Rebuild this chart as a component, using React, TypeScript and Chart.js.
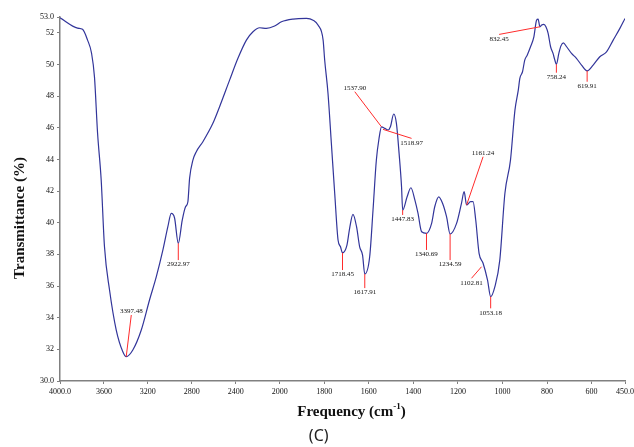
import React, { useEffect, useRef } from 'react';
import { Chart, registerables } from 'chart.js';

Chart.register(...registerables);

// Piecewise wavenumber axis: 4000-2000 compressed (half scale), 2000-450 full scale
const K = 0.493;
const toT = (w: number) => (w >= 2000 ? (4000 - w) * K : 2000 * K + (2000 - w));

const wavenumbers = [
  4000, 3840, 3795, 3749, 3713, 3686, 3658, 3625, 3595, 3549,
  3488, 3428, 3397, 3337, 3260, 3185, 3123, 3063, 3018, 2987,
  2957, 2923, 2887, 2857, 2836, 2820, 2790, 2759, 2699, 2608,
  2547, 2456, 2380, 2303, 2243, 2182, 2121, 2046, 1992, 1940,
  1880, 1850, 1828, 1805, 1798, 1783, 1768, 1753, 1738, 1727,
  1718, 1698, 1686, 1671, 1655, 1641, 1628, 1618, 1596, 1581,
  1566, 1554, 1543, 1528, 1513, 1503, 1488, 1476, 1464, 1453,
  1448, 1428, 1411, 1393, 1379, 1363, 1341, 1318, 1304, 1286,
  1269, 1251, 1235, 1206, 1184, 1172, 1161, 1143, 1132, 1120,
  1105, 1087, 1067, 1053, 1034, 1012, 989, 964, 944, 929,
  922, 910, 900, 889, 874, 859, 847, 840, 832, 824,
  814, 805, 795, 784, 773, 765, 758, 747, 738, 727,
  712, 690, 668, 645, 620, 593, 563, 533, 503, 473,
  450,
];

const transmittance = [
  52.95, 52.30, 52.22, 51.54, 50.72, 49.20, 45.67, 42.70, 38.48, 35.75,
  33.22, 31.85, 31.54, 31.96, 33.22, 35.12, 36.59, 38.28, 39.75, 40.59,
  40.30, 38.70, 40.17, 41.01, 41.31, 42.82, 43.96, 44.49, 45.12, 46.28,
  47.33, 49.01, 50.39, 51.54, 52.07, 52.32, 52.28, 52.43, 52.70, 52.87,
  52.91, 52.80, 52.49, 51.54, 50.28, 48.17, 45.02, 41.86, 38.91, 38.48,
  38.10, 38.59, 39.65, 40.53, 39.75, 38.48, 37.96, 36.76, 37.85, 40.80,
  43.96, 45.33, 46.06, 45.96, 45.86, 46.06, 46.87, 46.28, 44.38, 42.27,
  40.80, 41.64, 42.21, 41.43, 40.59, 39.43, 39.33, 39.96, 41.01, 41.64,
  41.23, 40.38, 39.29, 39.96, 41.23, 41.96, 41.12, 41.33, 41.33, 40.17,
  38.07, 37.44, 36.38, 35.33, 35.96, 37.64, 41.86, 43.96, 47.12, 48.38,
  49.12, 49.54, 50.28, 50.59, 51.12, 51.75, 52.80, 52.87, 52.38, 52.49,
  52.53, 52.38, 51.96, 51.12, 50.70, 50.28, 50.01, 50.70, 51.16, 51.37,
  51.12, 50.70, 50.39, 49.96, 49.60, 49.96, 50.49, 50.80, 51.54, 52.28,
  52.91,
];

const xTickValues = [4000, 3600, 3200, 2800, 2400, 2000, 1800, 1600, 1400, 1200, 1000, 800, 600, 450];
const xTickLabels = ['4000.0', '3600', '3200', '2800', '2400', '2000', '1800', '1600', '1400', '1200', '1000', '800', '600', '450.0'];
const yTickValues = [30, 32, 34, 36, 38, 40, 42, 44, 46, 48, 50, 52, 53];
const yTickLabels = ['30.0', '32', '34', '36', '38', '40', '42', '44', '46', '48', '50', '52', '53.0'];

// Peak annotations: label, start point on curve (w, T), end of leader line (w, T), text side
const peakLabels = ['3397.48', '2922.97', '1718.45', '1617.91', '1537.90', '1518.97', '1447.83', '1340.69', '1234.59', '1161.24', '1102.81', '1053.18', '832.45', '758.24', '619.91'];
const peakStart: [number, number][] = [
  [3397, 31.54], [2923, 38.70], [1718, 38.10], [1618, 36.76], [1543, 46.06], [1536, 45.90], [1448, 40.80], [1341, 39.33],
  [1235, 39.29], [1161, 41.12], [1094, 37.22], [1053, 35.33], [832, 52.38], [758, 50.01], [620, 49.60],
];
const peakEnd: [number, number][] = [
  [3351, 34.17], [2923, 37.64], [1718, 37.01], [1618, 35.87], [1663, 48.28], [1408, 45.33], [1448, 40.49], [1341, 38.28],
  [1235, 37.64], [1087, 44.17], [1139, 36.49], [1053, 34.59], [1015, 51.90], [758, 49.48], [620, 48.91],
];
const peakSide = ['above', 'below', 'below', 'below', 'above', 'below', 'below', 'below', 'below', 'above', 'below', 'below', 'below', 'below', 'below'];

const SERIF = '"Liberation Serif", "Times New Roman", serif';

const overlayPlugin = {
  id: 'overlay',
  afterDraw(chart: any) {
    const { ctx } = chart;
    const xs = chart.scales.x;
    const ys = chart.scales.y;
    ctx.save();
    // leader lines + labels
    ctx.lineWidth = 1;
    ctx.strokeStyle = '#ff2b2b';
    ctx.fillStyle = '#111';
    ctx.font = `7px ${SERIF}`;
    ctx.textAlign = 'center';
    peakLabels.forEach((lab, i) => {
      const x1 = xs.getPixelForValue(toT(peakStart[i][0]));
      const y1 = ys.getPixelForValue(peakStart[i][1]);
      const x2 = xs.getPixelForValue(toT(peakEnd[i][0]));
      const y2 = ys.getPixelForValue(peakEnd[i][1]);
      ctx.beginPath();
      ctx.moveTo(x1, y1);
      ctx.lineTo(x2, y2);
      ctx.stroke();
      const above = peakSide[i] === 'above';
      ctx.textBaseline = above ? 'bottom' : 'top';
      ctx.fillText(lab, x2, above ? y2 - 0.5 : y2 + 1);
    });

    // Y title
    ctx.fillStyle = '#111';
    ctx.font = `bold 15px ${SERIF}`;
    ctx.textAlign = 'center';
    ctx.textBaseline = 'middle';
    ctx.save();
    ctx.translate(20, 218);
    ctx.rotate(-Math.PI / 2);
    ctx.fillText('Transmittance (%)', 0, 0);
    ctx.restore();

    // X title with superscript
    const main = 'Frequency (cm';
    const sup = '-1';
    const close = ')';
    ctx.font = `bold 15px ${SERIF}`;
    const w1 = ctx.measureText(main).width;
    const w3 = ctx.measureText(close).width;
    ctx.font = `bold 9px ${SERIF}`;
    const w2 = ctx.measureText(sup).width;
    const total = w1 + w2 + w3;
    let x = 351.5 - total / 2;
    const y = 412;
    ctx.textAlign = 'left';
    ctx.textBaseline = 'middle';
    ctx.font = `bold 15px ${SERIF}`;
    ctx.fillText(main, x, y);
    x += w1;
    ctx.font = `bold 9px ${SERIF}`;
    ctx.fillText(sup, x, y - 5);
    x += w2;
    ctx.font = `bold 15px ${SERIF}`;
    ctx.fillText(close, x, y);

    // (C)
    ctx.font = `16px "Noto Sans", sans-serif`;
    ctx.textAlign = 'center';
    ctx.fillStyle = '#222';
    ctx.fillText('(C)', 318.7, 436);
    ctx.restore();
  },
};

export default function App() {
  const canvasRef = useRef<HTMLCanvasElement | null>(null);

  useEffect(() => {
    const canvas = canvasRef.current;
    if (!canvas) return;
    const data = wavenumbers.map((w, i) => ({ x: toT(w), y: transmittance[i] }));
    const chart = new Chart(canvas, {
      type: 'line',
      data: {
        datasets: [
          {
            data,
            borderColor: '#32359a',
            borderWidth: 1.2,
            pointRadius: 0,
            fill: false,
            cubicInterpolationMode: 'monotone',
          },
        ],
      },
      options: {
        responsive: false,
        animation: false,
        devicePixelRatio: 1,
        layout: { padding: { left: 0, top: 17, right: 9, bottom: 0 } },
        plugins: {
          legend: { display: false },
          tooltip: { enabled: false },
        },
        scales: {
          x: {
            type: 'linear',
            min: 0,
            max: toT(450),
            afterBuildTicks: (scale: any) => {
              scale.ticks = xTickValues.map((w) => ({ value: toT(w) }));
            },
            afterFit: (scale: any) => {
              scale.height = 66;
              scale.paddingLeft = 0;
              scale.paddingRight = 0;
            },
            ticks: {
              autoSkip: false,
              maxRotation: 0,
              padding: 3,
              color: '#111',
              font: { family: SERIF, size: 8 },
              callback: (_v: any, i: number) => xTickLabels[i],
            },
            grid: { drawOnChartArea: false, drawTicks: true, tickLength: 3, color: '#808080' },
            border: { color: '#808080', width: 1.5 },
          },
          y: {
            type: 'linear',
            min: 30,
            max: 53,
            afterBuildTicks: (scale: any) => {
              scale.ticks = yTickValues.map((v) => ({ value: v }));
            },
            afterFit: (scale: any) => {
              scale.width = 60;
              scale.paddingTop = 0;
              scale.paddingBottom = 0;
            },
            ticks: {
              autoSkip: false,
              padding: 3,
              color: '#111',
              font: { family: SERIF, size: 8 },
              callback: (_v: any, i: number) => yTickLabels[i],
            },
            grid: { drawOnChartArea: false, drawTicks: true, tickLength: 3, color: '#808080' },
            border: { color: '#808080', width: 1.5 },
          },
        },
      },
      plugins: [overlayPlugin],
    });
    return () => chart.destroy();
  }, []);

  return (
    <div style={{ position: 'fixed', left: 0, top: 0, width: 634, height: 447, background: '#fff' }}>
      <canvas ref={canvasRef} width={634} height={447} style={{ display: 'block' }} />
    </div>
  );
}
